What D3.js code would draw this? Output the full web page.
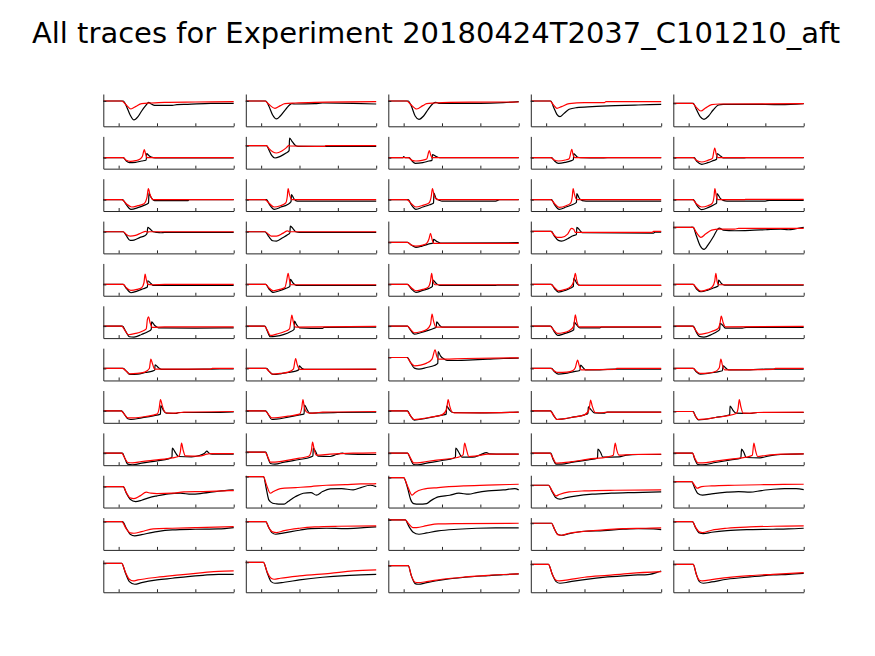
<!DOCTYPE html>
<html>
<head>
<meta charset="utf-8">
<script src="https://cdn.jsdelivr.net/npm/d3@7"></script>
<style>
  body { margin: 0; background: #fff; }
  svg { display: block; }
</style>
</head>
<body>
<div id="chart"></div>
<script>
// data, one entry per panel (rows of 5)
const titleText = 'All traces for Experiment 20180424T2037_C101210_aft';
const xDomain = [-0.2, 1.5];
const xTicks = [0, 0.5, 1, 1.5];

const yLimits = [
  [[-76, 21], [-76, 21], [-76, 21], [-76, 21], [-69, 28]],
  [[-33, 64], [-69, 28], [-33, 64], [-33, 64], [-33, 64]],
  [[-34, 63], [-34, 63], [-34, 63], [-34, 63], [-34, 63]],
  [[-65, 32], [-65, 32], [-33, 64], [-66, 31], [-78, 19]],
  [[-34, 63], [-34, 63], [-34, 63], [-34, 63], [-34, 63]],
  [[-36, 61], [-36, 61], [-36, 61], [-36, 61], [-36, 61]],
  [[-36, 61], [-36, 61], [-69, 28], [-36, 61], [-36, 61]],
  [[-36, 61], [-36, 61], [-36, 61], [-36, 61], [-34, 63]],
  [[-36, 61], [-39, 58], [-36, 61], [-36, 61], [-36, 61]],
  [[-63, 34], [-93, 4], [-90, 7], [-67, 30], [-78, 19]],
  [[-85, 12], [-85, 12], [-90, 7], [-80, 17], [-85, 12]],
  [[-87, 10], [-90, 7], [-80, 17], [-84, 13], [-84, 13]]
];

const blackTraces = [
  [
    [[-0.2,0],[0.06,0],[0.1,-15],[0.15,-42],[0.2,-57],[0.25,-48],[0.3,-30],[0.36,-12],[0.39,-4],[0.42,-8],[0.47,-13],[0.7,-13],[0.76,-11],[0.9,-10],[1.2,-7],[1.5,-7]],
    [[-0.2,0],[0.06,0],[0.1,-15],[0.15,-42],[0.2,-54],[0.25,-45],[0.32,-25],[0.4,-8],[0.45,-9],[0.7,-8],[0.8,-6],[1.2,-7],[1.5,-9]],
    [[-0.2,0],[0.06,0],[0.1,-15],[0.15,-45],[0.2,-55],[0.26,-45],[0.32,-25],[0.38,-8],[0.42,-4],[0.46,-7],[0.7,-7],[1.0,-7],[1.3,-5],[1.5,-2]],
    [[-0.2,0],[0.06,0],[0.1,-20],[0.14,-40],[0.18,-47],[0.23,-38],[0.3,-25],[0.4,-20],[0.6,-17],[0.9,-14],[1.2,-12],[1.5,-10]],
    [[-0.2,0],[0.06,0],[0.1,-18],[0.15,-40],[0.2,-48],[0.26,-38],[0.32,-20],[0.39,-5],[0.45,-3],[0.8,-3],[1.2,-4],[1.5,-1]]
  ],
  [
    [[-0.2,0],[0.06,0],[0.1,-10],[0.14,-15],[0.22,-14],[0.3,-10],[0.36,-7],[0.365,12],[0.4,5],[0.45,0],[0.5,-1],[1.5,-1]],
    [[-0.2,0],[0.07,0],[0.1,-12],[0.14,-30],[0.18,-37],[0.25,-32],[0.32,-23],[0.365,-15],[0.37,23],[0.4,14],[0.44,2],[0.48,-2],[1.5,-2]],
    [[-0.2,0],[-0.01,0],[0.0,3],[0.02,0],[0.07,0],[0.11,-10],[0.15,-17],[0.25,-15],[0.33,-10],[0.37,-8],[0.375,9],[0.42,4],[0.47,0],[1.5,0]],
    [[-0.2,0],[0.07,0],[0.11,-10],[0.16,-17],[0.25,-14],[0.33,-9],[0.355,-6],[0.36,12],[0.4,3],[0.45,0],[0.7,-1],[0.8,0],[1.5,0]],
    [[-0.2,0],[0.07,0],[0.11,-12],[0.17,-20],[0.25,-15],[0.33,-8],[0.365,-5],[0.37,12],[0.42,4],[0.46,-1],[0.7,-1],[0.75,0],[1.5,0]]
  ],
  [
    [[-0.2,0],[0.05,0],[0.1,-15],[0.16,-29],[0.25,-24],[0.33,-17],[0.39,-10],[0.395,20],[0.42,8],[0.47,-3],[0.9,-3],[0.92,0],[1.5,0]],
    [[-0.2,0],[0.07,0],[0.11,-15],[0.17,-29],[0.26,-22],[0.34,-15],[0.39,-6],[0.395,15],[0.43,2],[0.47,-4],[1.5,-4]],
    [[-0.2,0],[0.06,0],[0.1,-15],[0.16,-29],[0.25,-22],[0.34,-15],[0.39,-10],[0.395,20],[0.42,5],[0.47,-2],[0.5,-4],[1.2,-4],[1.25,0],[1.5,0]],
    [[-0.2,0],[0.07,0],[0.11,-15],[0.17,-29],[0.26,-22],[0.34,-15],[0.395,-8],[0.4,18],[0.43,5],[0.47,-3],[0.52,-4],[1.5,-4]],
    [[-0.2,0],[0.06,0],[0.11,-18],[0.17,-30],[0.26,-23],[0.33,-15],[0.365,-10],[0.37,18],[0.41,5],[0.45,-2],[0.5,-4],[1.0,-4],[1.05,-2],[1.5,-2]]
  ],
  [
    [[-0.2,0],[0.06,0],[0.1,-12],[0.15,-26],[0.2,-25],[0.28,-17],[0.34,-12],[0.37,-5],[0.38,13],[0.41,8],[0.45,0],[0.5,-2],[0.55,-3],[0.6,-2],[1.5,-2]],
    [[-0.2,0],[0.05,0],[0.1,-15],[0.15,-27],[0.2,-28],[0.28,-18],[0.34,-10],[0.375,-3],[0.38,17],[0.42,8],[0.45,0],[0.5,-2],[1.5,-2]],
    [[-0.2,0],[0.05,0],[0.1,-8],[0.16,-15],[0.24,-11],[0.32,-5],[0.385,-2],[0.39,9],[0.43,3],[0.48,-2],[1.5,-1]],
    [[-0.2,0],[0.07,0],[0.11,-15],[0.16,-27],[0.2,-29],[0.28,-22],[0.35,-13],[0.395,-9],[0.4,12],[0.44,3],[0.47,-4],[1.4,-5],[1.42,-2],[1.5,-2]],
    [[-0.2,0],[0.03,0],[0.04,1],[0.06,0],[0.1,-25],[0.15,-55],[0.2,-66],[0.26,-50],[0.33,-25],[0.38,-5],[0.4,-2],[0.45,-8],[0.6,-10],[0.8,-9],[1.0,-7],[1.2,-5],[1.3,-7],[1.4,-4],[1.5,0]]
  ],
  [
    [[-0.2,0],[0.06,0],[0.1,-12],[0.16,-25],[0.24,-20],[0.32,-13],[0.375,-8],[0.38,11],[0.42,3],[0.45,-3],[1.5,-3]],
    [[-0.2,0],[0.06,0],[0.1,-13],[0.16,-24],[0.24,-19],[0.32,-12],[0.375,-6],[0.38,15],[0.42,3],[0.46,-3],[1.5,-3]],
    [[-0.2,0],[0.05,0],[0.1,-13],[0.16,-24],[0.25,-18],[0.33,-12],[0.375,-6],[0.38,13],[0.43,2],[0.47,-3],[1.2,-3],[1.22,-2],[1.5,-2]],
    [[-0.2,0],[0.07,0],[0.11,-13],[0.16,-23],[0.25,-18],[0.32,-11],[0.355,-6],[0.36,18],[0.4,3],[0.44,-3],[0.7,-3],[1.5,-3]],
    [[-0.2,0],[0.06,0],[0.1,-13],[0.16,-22],[0.25,-17],[0.33,-10],[0.385,-5],[0.39,13],[0.43,2],[0.47,-2],[1.5,-2]]
  ],
  [
    [[-0.2,0],[0.05,0],[0.09,-15],[0.14,-32],[0.2,-33],[0.3,-25],[0.38,-17],[0.425,-10],[0.43,13],[0.47,2],[0.52,-5],[1.0,-6],[1.5,-5]],
    [[-0.2,0],[0.05,0],[0.08,-15],[0.12,-32],[0.18,-31],[0.3,-25],[0.38,-17],[0.43,-10],[0.435,15],[0.46,5],[0.5,-5],[0.8,-7],[0.82,-4],[1.5,-3]],
    [[-0.2,0],[0.05,0],[0.09,-12],[0.14,-24],[0.22,-20],[0.32,-13],[0.39,-7],[0.425,-3],[0.43,13],[0.47,2],[0.5,-3],[1.5,-3]],
    [[-0.2,0],[0.06,0],[0.1,-14],[0.15,-28],[0.22,-24],[0.3,-18],[0.36,-11],[0.365,12],[0.4,3],[0.44,-5],[0.7,-5],[0.72,-3],[1.5,-3]],
    [[-0.2,0],[0.06,0],[0.1,-18],[0.14,-31],[0.2,-33],[0.3,-25],[0.38,-15],[0.405,-10],[0.41,8],[0.45,1],[0.48,-6],[0.7,-6],[0.75,-4],[1.5,-4]]
  ],
  [
    [[-0.2,0],[0.06,0],[0.1,-8],[0.15,-18],[0.25,-17],[0.35,-12],[0.44,-8],[0.47,-5],[0.475,11],[0.52,2],[0.56,-3],[0.75,-3],[1.2,-2],[1.5,-1]],
    [[-0.2,0],[0.07,0],[0.11,-10],[0.16,-18],[0.25,-16],[0.35,-12],[0.45,-8],[0.49,-4],[0.495,8],[0.53,1],[0.56,-3],[1.5,-3]],
    [[-0.2,0],[0.05,0],[0.09,-15],[0.14,-32],[0.2,-35],[0.3,-30],[0.4,-24],[0.445,-18],[0.45,18],[0.48,5],[0.53,-5],[0.57,-9],[0.7,-9],[0.9,-7],[1.1,-5],[1.3,-3],[1.5,-2]],
    [[-0.2,0],[0.07,0],[0.11,-10],[0.16,-17],[0.25,-15],[0.35,-10],[0.44,-6],[0.45,10],[0.48,3],[0.51,-4],[0.7,-4],[0.9,-2],[1.5,-2]],
    [[-0.2,0],[0.06,0],[0.1,-10],[0.15,-17],[0.25,-15],[0.35,-11],[0.44,-7],[0.45,8],[0.48,2],[0.52,-4],[0.8,-4],[1.0,-2],[1.5,-2]]
  ],
  [
    [[-0.2,0],[0.04,0],[0.08,-12],[0.12,-24],[0.16,-26],[0.3,-21],[0.45,-15],[0.545,-10],[0.55,16],[0.58,3],[0.62,-7],[0.75,-8],[0.78,-5],[1.2,-5],[1.5,-3]],
    [[-0.2,0],[0.06,0],[0.1,-14],[0.14,-26],[0.2,-25],[0.35,-19],[0.5,-12],[0.56,-9],[0.565,17],[0.6,3],[0.63,-7],[0.8,-6],[1.0,-5],[1.5,-4]],
    [[-0.2,0],[0.05,0],[0.09,-15],[0.14,-28],[0.2,-26],[0.35,-20],[0.5,-13],[0.555,-10],[0.56,14],[0.6,2],[0.64,-5],[1.0,-6],[1.5,-4]],
    [[-0.2,0],[0.06,0],[0.1,-15],[0.14,-26],[0.2,-25],[0.35,-19],[0.5,-12],[0.545,-8],[0.55,12],[0.59,2],[0.63,-6],[0.75,-7],[0.8,-4],[1.5,-4]],
    [[-0.2,0],[0.06,0],[0.09,-15],[0.13,-25],[0.2,-24],[0.35,-18],[0.5,-12],[0.535,-10],[0.54,16],[0.58,3],[0.62,-5],[0.8,-6],[0.9,-3],[1.5,-3]]
  ],
  [
    [[-0.2,0],[0.05,0],[0.08,-15],[0.12,-33],[0.18,-35],[0.3,-30],[0.5,-23],[0.65,-17],[0.695,-12],[0.7,15],[0.74,2],[0.78,-10],[0.95,-11],[1.05,-7],[1.12,0],[1.15,6],[1.18,0],[1.22,-3],[1.5,-3]],
    [[-0.2,0],[0.06,0],[0.09,-18],[0.12,-34],[0.18,-36],[0.3,-30],[0.5,-22],[0.64,-15],[0.675,-11],[0.68,12],[0.71,2],[0.74,-12],[0.9,-13],[0.98,-7],[1.06,-3],[1.1,-5],[1.5,-7]],
    [[-0.2,0],[0.05,0],[0.09,-18],[0.13,-34],[0.18,-35],[0.3,-30],[0.5,-22],[0.65,-15],[0.675,-12],[0.68,15],[0.72,2],[0.76,-12],[0.9,-12],[1.0,-5],[1.08,2],[1.12,-2],[1.3,-3],[1.5,-3]],
    [[-0.2,0],[0.06,0],[0.09,-18],[0.13,-33],[0.2,-33],[0.35,-27],[0.55,-20],[0.67,-15],[0.675,12],[0.71,2],[0.74,-12],[0.95,-11],[1.05,-6],[1.2,-4],[1.5,-4]],
    [[-0.2,0],[0.05,0],[0.08,-18],[0.12,-34],[0.18,-35],[0.35,-28],[0.55,-20],[0.68,-15],[0.69,12],[0.72,2],[0.75,-13],[0.93,-14],[1.05,-8],[1.2,-4],[1.5,-2]]
  ],
  [
    [[-0.2,0],[0.06,0],[0.1,-20],[0.15,-38],[0.22,-45],[0.3,-41],[0.4,-33],[0.5,-28],[0.65,-22],[0.8,-20],[0.95,-23],[1.1,-20],[1.3,-14],[1.5,-10]],
    [[-0.2,0],[0.03,0],[0.07,-40],[0.1,-70],[0.15,-80],[0.2,-82],[0.25,-83],[0.3,-83],[0.35,-75],[0.45,-60],[0.55,-50],[0.65,-48],[0.72,-56],[0.8,-45],[0.9,-37],[1.05,-36],[1.2,-40],[1.3,-33],[1.42,-26],[1.5,-30]],
    [[-0.2,0],[0.0,0],[0.05,-30],[0.09,-65],[0.13,-78],[0.2,-80],[0.3,-78],[0.35,-70],[0.45,-58],[0.6,-53],[0.72,-47],[0.85,-50],[0.95,-45],[1.1,-40],[1.3,-37],[1.45,-33],[1.5,-37]],
    [[-0.2,0],[0.03,0],[0.08,-20],[0.12,-36],[0.18,-42],[0.25,-38],[0.4,-32],[0.6,-27],[0.85,-24],[1.15,-22],[1.5,-20]],
    [[-0.2,0],[0.04,0],[0.08,-20],[0.12,-36],[0.18,-41],[0.3,-37],[0.5,-32],[0.65,-30],[0.8,-32],[0.95,-27],[1.1,-23],[1.25,-21],[1.4,-21],[1.5,-24]]
  ],
  [
    [[-0.2,0],[0.05,0],[0.1,-20],[0.15,-38],[0.21,-43],[0.3,-39],[0.5,-30],[0.7,-25],[1.0,-23],[1.3,-22],[1.5,-18]],
    [[-0.2,0],[0.06,0],[0.1,-18],[0.14,-33],[0.19,-38],[0.3,-34],[0.5,-26],[0.65,-21],[0.85,-20],[1.1,-21],[1.3,-19],[1.5,-16]],
    [[-0.2,0],[0.02,0],[0.07,-20],[0.12,-36],[0.2,-43],[0.3,-39],[0.45,-33],[0.7,-28],[0.95,-25],[1.2,-24],[1.5,-24]],
    [[-0.2,0],[0.07,0],[0.11,-18],[0.15,-33],[0.2,-36],[0.3,-31],[0.5,-24],[0.75,-22],[1.0,-18],[1.2,-16],[1.4,-17],[1.5,-19]],
    [[-0.2,0],[0.05,0],[0.09,-18],[0.14,-34],[0.19,-36],[0.3,-32],[0.5,-27],[0.8,-24],[1.1,-23],[1.3,-22],[1.5,-20]]
  ],
  [
    [[-0.2,0],[0.04,0],[0.09,-30],[0.14,-55],[0.21,-63],[0.3,-58],[0.5,-50],[0.7,-45],[0.9,-40],[1.1,-36],[1.3,-33],[1.5,-33]],
    [[-0.2,0],[0.03,0],[0.08,-32],[0.13,-58],[0.18,-63],[0.3,-60],[0.5,-53],[0.8,-45],[1.1,-40],[1.3,-38],[1.5,-36]],
    [[-0.2,0],[0.06,0],[0.1,-30],[0.15,-54],[0.19,-56],[0.3,-51],[0.5,-43],[0.8,-35],[1.1,-30],[1.3,-27],[1.5,-25]],
    [[-0.2,0],[0.03,0],[0.08,-30],[0.13,-52],[0.18,-57],[0.3,-53],[0.5,-46],[0.8,-38],[1.1,-33],[1.35,-30],[1.45,-24],[1.5,-20]],
    [[-0.2,0],[0.06,0],[0.1,-30],[0.14,-52],[0.19,-57],[0.3,-53],[0.5,-45],[0.8,-38],[1.1,-32],[1.3,-30],[1.5,-27]]
  ]
];

const redTraces = [
  [
    [[-0.2,0],[0.04,0],[0.09,-10],[0.16,-24],[0.22,-17],[0.3,-8],[0.42,-6],[0.6,-4],[1.0,-3],[1.5,-2]],
    [[-0.2,0],[0.05,0],[0.1,-10],[0.18,-22],[0.25,-14],[0.31,-8],[0.44,-6],[0.7,-4],[1.5,-2]],
    [[-0.2,0],[0.04,0],[0.09,-10],[0.17,-24],[0.25,-14],[0.3,-8],[0.4,-6],[0.6,-4],[1.5,-3]],
    [[-0.2,0],[0.05,0],[0.09,-10],[0.14,-22],[0.2,-17],[0.3,-8],[0.5,-5],[0.76,-5],[0.78,-2],[1.5,-2]],
    [[-0.2,0],[0.05,0],[0.1,-12],[0.16,-23],[0.22,-14],[0.3,-4],[0.4,-2],[1.5,-1]]
  ],
  [
    [[-0.2,0],[0.06,0],[0.1,-8],[0.15,-11],[0.22,-9],[0.28,-4],[0.31,4],[0.335,24],[0.35,12],[0.37,0],[1.5,0]],
    [[-0.2,0],[0.07,0],[0.1,-8],[0.15,-18],[0.2,-22],[0.27,-16],[0.33,-6],[0.36,1],[0.37,-1],[0.83,-2],[0.84,0],[1.5,0]],
    [[-0.2,0],[0.06,0],[0.11,-8],[0.16,-10],[0.24,-8],[0.3,-4],[0.335,21],[0.35,10],[0.37,0],[1.5,0]],
    [[-0.2,0],[0.06,0],[0.1,-6],[0.16,-10],[0.25,-7],[0.3,-3],[0.335,25],[0.35,10],[0.37,0],[1.5,0]],
    [[-0.2,0],[0.06,0],[0.1,-8],[0.17,-13],[0.25,-8],[0.31,-2],[0.34,29],[0.36,10],[0.38,0],[1.5,0]]
  ],
  [
    [[-0.2,0],[0.04,0],[0.1,-12],[0.17,-22],[0.25,-18],[0.33,-12],[0.37,8],[0.387,33],[0.41,15],[0.45,0],[1.5,0]],
    [[-0.2,0],[0.05,0],[0.1,-10],[0.17,-22],[0.25,-18],[0.32,-10],[0.34,8],[0.352,33],[0.37,15],[0.4,0],[1.5,0]],
    [[-0.2,0],[0.04,0],[0.1,-12],[0.16,-22],[0.25,-17],[0.33,-10],[0.36,10],[0.375,33],[0.4,10],[0.44,0],[1.5,0]],
    [[-0.2,0],[0.06,0],[0.11,-12],[0.17,-23],[0.26,-18],[0.32,-10],[0.34,8],[0.352,33],[0.37,15],[0.4,0],[1.5,0]],
    [[-0.2,0],[0.05,0],[0.1,-12],[0.17,-22],[0.25,-18],[0.31,-10],[0.33,8],[0.342,33],[0.36,12],[0.38,0],[0.73,0],[0.74,1],[1.5,1]]
  ],
  [
    [[-0.2,0],[0.06,0],[0.1,-8],[0.15,-13],[0.22,-11],[0.3,-3],[0.35,1],[0.38,-1],[0.4,0],[1.5,0]],
    [[-0.2,0],[0.05,0],[0.1,-8],[0.13,-13],[0.2,-13],[0.28,-5],[0.33,2],[0.35,3],[0.36,0],[1.5,0]],
    [[-0.2,0],[0.05,0],[0.1,-8],[0.16,-11],[0.25,-8],[0.3,-3],[0.33,10],[0.35,27],[0.37,10],[0.39,-3],[1.5,-3]],
    [[-0.2,0],[0.06,0],[0.1,-10],[0.14,-18],[0.2,-18],[0.28,-8],[0.33,9],[0.36,6],[0.38,-3],[1.38,-3],[1.4,0],[1.5,0]],
    [[-0.2,0],[0.06,0],[0.1,-15],[0.16,-30],[0.22,-20],[0.3,-8],[0.4,-5],[0.6,-5],[0.65,-3],[1.5,-3]]
  ],
  [
    [[-0.2,0],[0.06,0],[0.1,-10],[0.16,-18],[0.24,-15],[0.3,-10],[0.33,5],[0.345,31],[0.36,15],[0.38,0],[0.45,-1],[0.6,0],[1.5,0]],
    [[-0.2,0],[0.06,0],[0.1,-10],[0.16,-19],[0.24,-15],[0.31,-9],[0.33,8],[0.352,33],[0.37,12],[0.39,-1],[1.5,-1]],
    [[-0.2,0],[0.05,0],[0.1,-10],[0.16,-19],[0.25,-15],[0.32,-8],[0.35,10],[0.365,33],[0.38,12],[0.41,-1],[1.5,-1]],
    [[-0.2,0],[0.06,0],[0.11,-10],[0.16,-19],[0.25,-15],[0.32,-7],[0.36,10],[0.38,33],[0.4,12],[0.43,-3],[1.5,-3]],
    [[-0.2,0],[0.06,0],[0.1,-10],[0.16,-20],[0.25,-15],[0.31,-7],[0.34,10],[0.355,33],[0.37,10],[0.39,-1],[1.5,-1]]
  ],
  [
    [[-0.2,0],[0.04,0],[0.08,-12],[0.13,-26],[0.22,-22],[0.3,-16],[0.36,-8],[0.375,20],[0.39,28],[0.41,10],[0.44,-4],[0.6,-2],[1.5,-2]],
    [[-0.2,0],[0.04,0],[0.08,-12],[0.12,-28],[0.2,-24],[0.3,-17],[0.37,-8],[0.39,20],[0.4,33],[0.42,12],[0.45,-3],[1.5,-1]],
    [[-0.2,0],[0.05,0],[0.09,-10],[0.14,-20],[0.22,-17],[0.3,-10],[0.35,5],[0.37,36],[0.39,15],[0.42,-3],[1.5,-3]],
    [[-0.2,0],[0.05,0],[0.1,-12],[0.15,-22],[0.22,-20],[0.3,-14],[0.36,0],[0.38,34],[0.4,12],[0.43,-2],[1.5,-2]],
    [[-0.2,0],[0.05,0],[0.09,-12],[0.14,-25],[0.22,-22],[0.3,-16],[0.38,-8],[0.41,10],[0.425,30],[0.45,10],[0.48,-2],[1.5,-1]]
  ],
  [
    [[-0.2,0],[0.05,0],[0.1,-8],[0.14,-16],[0.24,-15],[0.34,-11],[0.4,0],[0.42,28],[0.44,15],[0.47,-2],[1.2,-2],[1.22,0],[1.5,0]],
    [[-0.2,0],[0.06,0],[0.1,-8],[0.15,-17],[0.25,-15],[0.35,-11],[0.42,-2],[0.45,30],[0.47,12],[0.5,-3],[1.5,-2]],
    [[-0.2,0],[0.04,0],[0.09,-15],[0.14,-25],[0.22,-23],[0.3,-17],[0.37,-5],[0.41,23],[0.43,5],[0.45,-5],[0.8,-3],[1.5,-1]],
    [[-0.2,0],[0.06,0],[0.11,-8],[0.15,-12],[0.27,-11],[0.35,-6],[0.38,2],[0.41,25],[0.43,10],[0.46,-4],[0.9,-3],[0.92,0],[1.5,0]],
    [[-0.2,0],[0.06,0],[0.1,-8],[0.15,-15],[0.25,-14],[0.35,-9],[0.4,2],[0.42,28],[0.44,10],[0.47,-4],[1.1,-3],[1.13,0],[1.5,0]]
  ],
  [
    [[-0.2,0],[0.03,0],[0.08,-12],[0.12,-21],[0.2,-21],[0.35,-17],[0.5,-10],[0.53,10],[0.545,34],[0.57,15],[0.6,-3],[0.64,-7],[0.78,-6],[0.85,-4],[1.5,-2]],
    [[-0.2,0],[0.05,0],[0.1,-12],[0.14,-21],[0.22,-20],[0.35,-16],[0.5,-10],[0.53,10],[0.545,34],[0.56,15],[0.59,-3],[0.63,-7],[0.72,-6],[0.8,-4],[1.5,-2]],
    [[-0.2,0],[0.04,0],[0.09,-15],[0.14,-26],[0.22,-24],[0.35,-19],[0.5,-12],[0.56,5],[0.58,34],[0.6,15],[0.63,-3],[0.66,-6],[1.5,-4]],
    [[-0.2,0],[0.05,0],[0.1,-14],[0.14,-26],[0.22,-24],[0.35,-19],[0.5,-12],[0.56,5],[0.58,32],[0.6,15],[0.64,-5],[0.7,-6],[0.8,-4],[1.5,-4]],
    [[-0.2,0],[0.05,0],[0.09,-14],[0.13,-24],[0.2,-23],[0.35,-18],[0.5,-13],[0.62,-6],[0.645,10],[0.66,36],[0.68,15],[0.71,-5],[0.8,-5],[0.9,-3],[1.5,-2]]
  ],
  [
    [[-0.2,0],[0.04,0],[0.08,-15],[0.12,-28],[0.18,-29],[0.3,-25],[0.5,-20],[0.7,-14],[0.78,-10],[0.805,5],[0.82,30],[0.84,10],[0.87,-8],[1.05,-9],[1.15,-3],[1.2,-1],[1.5,-1]],
    [[-0.2,0],[0.05,0],[0.09,-16],[0.12,-30],[0.18,-30],[0.3,-26],[0.5,-18],[0.62,-12],[0.655,5],[0.67,30],[0.69,10],[0.72,-9],[0.9,-6],[1.2,-3],[1.5,-2]],
    [[-0.2,0],[0.05,0],[0.09,-15],[0.13,-29],[0.18,-29],[0.3,-25],[0.5,-19],[0.7,-13],[0.775,-5],[0.795,30],[0.82,10],[0.85,-10],[0.95,-8],[1.1,-3],[1.5,-3]],
    [[-0.2,0],[0.05,0],[0.09,-15],[0.13,-30],[0.2,-29],[0.35,-25],[0.55,-18],[0.8,-11],[0.875,-6],[0.9,30],[0.92,10],[0.95,-6],[1.1,-4],[1.5,-3]],
    [[-0.2,0],[0.05,0],[0.08,-15],[0.12,-29],[0.18,-29],[0.35,-24],[0.55,-18],[0.75,-12],[0.83,-6],[0.85,30],[0.87,10],[0.9,-10],[1.0,-7],[1.2,-3],[1.5,-2]]
  ],
  [
    [[-0.2,0],[0.06,0],[0.1,-18],[0.15,-34],[0.2,-36],[0.28,-28],[0.36,-17],[0.42,-20],[0.5,-21],[0.7,-20],[0.85,-16],[1.1,-15],[1.5,-12]],
    [[-0.2,0],[0.03,0],[0.07,-25],[0.12,-50],[0.16,-45],[0.25,-36],[0.45,-33],[0.65,-30],[0.85,-26],[1.1,-24],[1.3,-22],[1.45,-22],[1.5,-21]],
    [[-0.2,0],[0.0,0],[0.05,-25],[0.11,-53],[0.15,-45],[0.25,-35],[0.45,-30],[0.8,-25],[1.2,-22],[1.5,-20]],
    [[-0.2,0],[0.03,0],[0.08,-18],[0.13,-32],[0.17,-28],[0.3,-20],[0.5,-17],[0.9,-15],[1.5,-14]],
    [[-0.2,0],[0.04,0],[0.08,-12],[0.11,-20],[0.17,-15],[0.3,-13],[0.6,-11],[1.1,-9],[1.5,-8]]
  ],
  [
    [[-0.2,0],[0.04,0],[0.1,-22],[0.15,-34],[0.2,-35],[0.3,-30],[0.45,-22],[0.7,-20],[1.0,-18],[1.5,-15]],
    [[-0.2,0],[0.06,0],[0.1,-18],[0.15,-31],[0.2,-33],[0.3,-27],[0.5,-20],[0.7,-16],[1.0,-14],[1.5,-13]],
    [[-0.2,0],[0.02,0],[0.07,-13],[0.12,-23],[0.17,-23],[0.3,-17],[0.45,-12],[0.7,-11],[1.5,-10]],
    [[-0.2,0],[0.07,0],[0.11,-18],[0.15,-34],[0.2,-36],[0.3,-30],[0.5,-24],[0.75,-20],[1.0,-16],[1.3,-15],[1.5,-14]],
    [[-0.2,0],[0.05,0],[0.09,-17],[0.14,-31],[0.18,-33],[0.3,-26],[0.5,-20],[0.8,-16],[1.1,-14],[1.5,-13]]
  ],
  [
    [[-0.2,0],[0.04,0],[0.09,-28],[0.14,-48],[0.19,-53],[0.25,-50],[0.5,-42],[0.8,-35],[1.1,-28],[1.3,-24],[1.5,-23]],
    [[-0.2,0],[0.03,0],[0.08,-30],[0.13,-48],[0.17,-51],[0.25,-48],[0.5,-41],[0.9,-33],[1.2,-26],[1.5,-23]],
    [[-0.2,0],[0.06,0],[0.1,-30],[0.15,-50],[0.19,-51],[0.3,-48],[0.5,-41],[0.8,-34],[1.1,-29],[1.5,-25]],
    [[-0.2,0],[0.03,0],[0.08,-30],[0.13,-48],[0.17,-50],[0.3,-46],[0.5,-39],[0.8,-33],[1.1,-27],[1.5,-22]],
    [[-0.2,0],[0.06,0],[0.1,-30],[0.14,-48],[0.18,-50],[0.3,-46],[0.5,-40],[0.8,-34],[1.1,-30],[1.5,-25]]
  ]
];

const width = 875;
const height = 656;
const nRows = 12, nCols = 5;
const panelW = 130.4, panelH = 32.3;
const left0 = 103.3, colStep = 142.5;
const top0 = 94, rowStep = 42.36;

const svg = d3.select('#chart')
  .append('svg')
  .attr('width', width)
  .attr('height', height)
  .style('background', '#fff');

svg.append('text')
  .attr('x', 436)
  .attr('y', 43)
  .attr('text-anchor', 'middle')
  .style('font-family', 'DejaVu Sans, sans-serif')
  .style('font-size', '29px')
  .style('fill', '#000')
  .text(titleText);

const x = d3.scaleLinear().domain(xDomain).range([0, panelW]);

for (let r = 0; r < nRows; r++) {
  for (let c = 0; c < nCols; c++) {
    let g = svg.append('g')
      .attr('transform', 'translate(' + (left0 + c * colStep) + ',' + (top0 + r * rowStep) + ')');

    let y = d3.scaleLinear().domain(yLimits[r][c]).range([panelH, 0]);

    let clipId = 'clip-' + r + '-' + c;
    g.append('clipPath').attr('id', clipId)
      .append('rect').attr('x', -1.5).attr('y', -1).attr('width', panelW + 2.5).attr('height', panelH + 1);

    let line = d3.line()
      .curve(d3.curveMonotoneX)
      .x(function (d) { return x(d[0]); })
      .y(function (d) { return y(d[1]); });

    let plot = g.append('g').attr('clip-path', 'url(#' + clipId + ')');
    plot.append('path')
      .datum(blackTraces[r][c])
      .attr('fill', 'none')
      .attr('stroke', '#000')
      .attr('stroke-width', 1.2)
      .attr('d', line);
    plot.append('path')
      .datum(redTraces[r][c])
      .attr('fill', 'none')
      .attr('stroke', '#ff0000')
      .attr('stroke-width', 1.2)
      .attr('d', line);

    // bottom axis, ticks pointing inward
    g.append('g')
      .attr('transform', 'translate(0,' + panelH + ')')
      .call(d3.axisBottom(x).tickValues(xTicks).tickSizeInner(-3).tickSizeOuter(0).tickFormat(''))
      .call(function (a) {
        a.select('.domain').attr('stroke', '#262626');
        a.selectAll('.tick line').attr('stroke', '#262626');
      });

    // left axis
    g.append('g')
      .call(d3.axisLeft(y).tickValues([0]).tickSizeInner(-3).tickSizeOuter(0).tickFormat(''))
      .call(function (a) {
        a.select('.domain').attr('stroke', '#262626');
        a.selectAll('.tick line').attr('stroke', '#262626');
      });
  }
}
</script>
</body>
</html>
